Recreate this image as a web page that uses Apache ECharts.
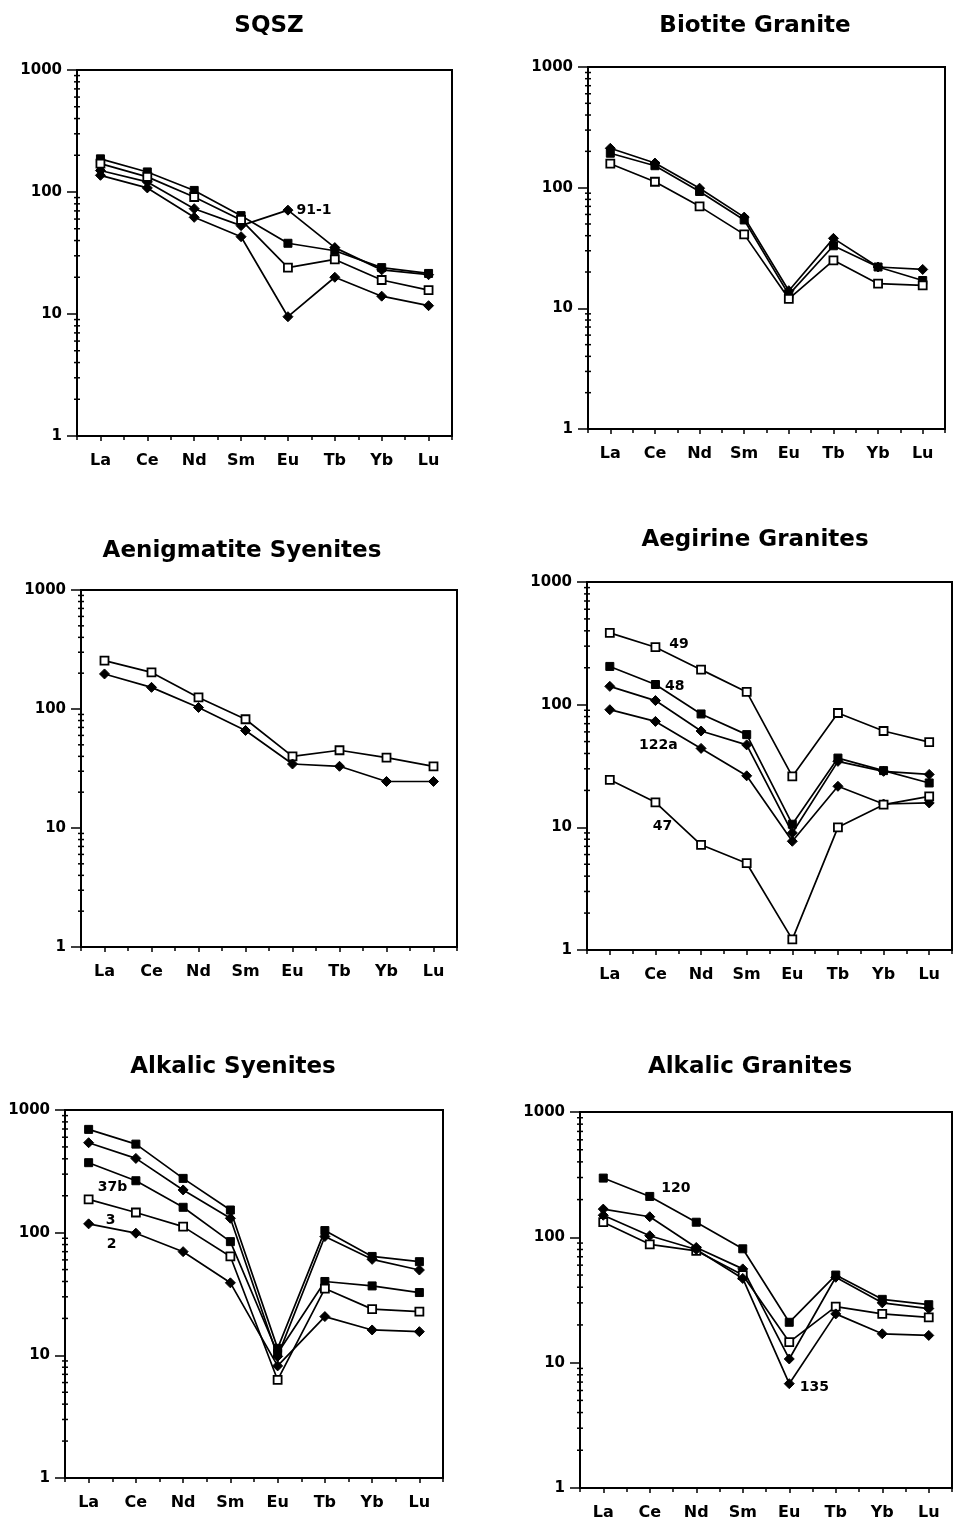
<!DOCTYPE html>
<html>
<head>
<meta charset="utf-8">
<script src="https://cdn.jsdelivr.net/npm/echarts@6/dist/echarts.min.js"></script>
<style>
html,body{margin:0;padding:0;background:#fff;}
#chart{width:953px;height:1527px;}
</style>
</head>
<body>
<div id="chart"></div>
<script>
// ---- categories & tick values ----
const categories = ['La','Ce','Nd','Sm','Eu','Tb','Yb','Lu'];
const minorTickValues = [2,3,4,5,6,7,8,9,20,30,40,50,60,70,80,90,200,300,400,500,600,700,800,900];

// ---- SQSZ ----
const sqsz_a = [187,146,103,64,38,33,24,21.5];
const sqsz_911 = [150,121,73,53,71,35,23,21];
const sqsz_c = [171,133,91,59,24,28,19,15.7];
const sqsz_d = [137,108,62,43,9.5,20,14,11.7];

// ---- Biotite Granite ----
const bio_a = [212,160,99,57,14,38,22,21];
const bio_b = [193,152,93,54,13,33,22,17];
const bio_c = [158,112,70,41,12,25,16,15.5];

// ---- Aenigmatite Syenites ----
const aen_a = [255,203,125,82,40,45,39,33];
const aen_b = [197,152,103,66,34.5,33,24.6,24.6];

// ---- Aegirine Granites ----
const aeg_49 = [385,294,193,127,26,85.5,61,49.5];
const aeg_48 = [205,146,84,57,10.6,36.7,29,23];
const aeg_c = [141,108,61,47,9,34.5,28.6,27];
const aeg_122a = [91,73,44,26.3,7.7,21.6,15.5,15.8];
const aeg_47 = [24.4,16,7.2,5.1,1.22,10,15.3,17.9];

// ---- Alkalic Syenites ----
const asy_a = [695,527,277,153,11.4,104,64,58];
const asy_b = [541,403,223,131,9.8,93,60.6,49.6];
const asy_37b = [372,265,161,84.5,10.4,40,36.8,32.5];
const asy_3 = [187,146,112,64,6.3,35,23.8,22.7];
const asy_2 = [118,99,70,39,8.2,20.7,16.1,15.6];

// ---- Alkalic Granites ----
const agr_120 = [297,212,132,81,21,50,32,29];
const agr_b = [168,146,83,56,10.7,48,30,27];
const agr_c = [132,88,78,50,14.6,28,24.5,23];
const agr_135 = [150,103,80,47,6.8,24.5,17,16.5];

const FONT = '"DejaVu Sans", "Liberation Sans", Arial, sans-serif';

const panels = [
  {title:'SQSZ', tx:264, ty:24, grid:{left:77, top:70, width:375, height:366},
   series:[
     {d:sqsz_a, m:'fs'},
     {d:sqsz_911, m:'fd', lab:{i:4, t:'91-1', pos:'right', off:[-2,0]}},
     {d:sqsz_c, m:'os'},
     {d:sqsz_d, m:'fd'}
   ]},
  {title:'Biotite Granite', tx:750, ty:24, grid:{left:588, top:67, width:357, height:362},
   series:[
     {d:bio_a, m:'fd'},
     {d:bio_b, m:'fs'},
     {d:bio_c, m:'os'}
   ]},
  {title:'Aenigmatite Syenites', tx:237, ty:549, grid:{left:81, top:590, width:376, height:357},
   series:[
     {d:aen_a, m:'os'},
     {d:aen_b, m:'fd'}
   ]},
  {title:'Aegirine Granites', tx:750, ty:538, grid:{left:587, top:582, width:365, height:368},
   series:[
     {d:aeg_49, m:'os', lab:{i:1, t:'49', pos:'right', off:[4,-3]}},
     {d:aeg_48, m:'fs', lab:{i:1, t:'48', pos:'right', off:[0,2]}},
     {d:aeg_c, m:'fd'},
     {d:aeg_122a, m:'fd', lab:{i:1, t:'122a', pos:'bottom', off:[3,6]}},
     {d:aeg_47, m:'os', lab:{i:1, t:'47', pos:'bottom', off:[7,7]}}
   ]},
  {title:'Alkalic Syenites', tx:228, ty:1065, grid:{left:65, top:1110, width:378, height:368},
   series:[
     {d:asy_a, m:'fs'},
     {d:asy_b, m:'fd'},
     {d:asy_37b, m:'fs', lab:{i:0, t:'37b', pos:'bottom', off:[24,8]}},
     {d:asy_3, m:'os', lab:{i:0, t:'3', pos:'bottom', off:[22,4]}},
     {d:asy_2, m:'fd', lab:{i:0, t:'2', pos:'bottom', off:[23,3]}}
   ]},
  {title:'Alkalic Granites', tx:745, ty:1065, grid:{left:580, top:1112, width:372, height:376},
   series:[
     {d:agr_120, m:'fs', lab:{i:1, t:'120', pos:'right', off:[2,-8]}},
     {d:agr_b, m:'fd'},
     {d:agr_c, m:'os'},
     {d:agr_135, m:'fd', lab:{i:4, t:'135', pos:'right', off:[0,4]}}
   ]}
];

const markerStyles = {
  fs:{symbol:'rect', symbolSize:8, itemStyle:{color:'#000', borderColor:'#000', borderWidth:1}},
  os:{symbol:'rect', symbolSize:8, itemStyle:{color:'#fff', borderColor:'#000', borderWidth:1.8}},
  fd:{symbol:'diamond', symbolSize:10, itemStyle:{color:'#000', borderColor:'#000', borderWidth:1}}
};

const option = {
  animation:false,
  backgroundColor:'#fff',
  title:[], grid:[], xAxis:[], yAxis:[], series:[]
};

panels.forEach((p, gi) => {
  option.title.push({
    text:p.title, left:p.tx, top:p.ty-14, textAlign:'center',
    textStyle:{fontFamily:FONT, fontSize:23, fontWeight:'bold', color:'#000'}
  });
  option.grid.push(Object.assign({show:true, borderColor:'#000', borderWidth:2, backgroundColor:'transparent', containLabel:false}, p.grid));
  // primary category axis (ticks at category centres, labels)
  option.xAxis.push({
    type:'category', gridIndex:gi, data:categories, boundaryGap:true, position:'bottom',
    axisLine:{show:true, lineStyle:{color:'#000', width:2}},
    axisTick:{show:true, alignWithLabel:true, interval:0, length:5, lineStyle:{color:'#000', width:1.5}},
    axisLabel:{interval:0, color:'#000', fontFamily:FONT, fontSize:16, fontWeight:'bold', margin:17},
    splitLine:{show:false}
  });
  // secondary category axis (ticks between categories)
  option.xAxis.push({
    type:'category', gridIndex:gi, data:categories, boundaryGap:true, position:'bottom',
    axisLine:{show:false},
    axisTick:{show:true, interval:0, length:4, lineStyle:{color:'#000', width:1.5}},
    axisLabel:{show:false, interval:0},
    splitLine:{show:false}
  });
  option.yAxis.push({
    type:'log', logBase:10, gridIndex:gi, min:1, max:1000,
    axisLine:{show:true, lineStyle:{color:'#000', width:2}},
    axisTick:{show:true, length:10, lineStyle:{color:'#000', width:1.5}},
    axisLabel:{color:'#000', fontFamily:FONT, fontSize:15, fontWeight:'bold', margin:15,
      formatter:v => String(Math.round(v))},
    splitLine:{show:false}, minorTick:{show:false}
  });
  // minor log ticks drawn through the y scale
  option.series.push({
    type:'custom', xAxisIndex:gi*2, yAxisIndex:gi, silent:true, clip:false, z:1,
    data:minorTickValues.map(v => [0, v]),
    renderItem:(params, api) => {
      const y = api.coord([0, api.value(1)])[1];
      const x0 = params.coordSys.x;
      return {type:'line', shape:{x1:x0-3, y1:y, x2:x0+3, y2:y}, style:{stroke:'#000', lineWidth:1.5}};
    }
  });
  p.series.forEach(s => {
    const ms = markerStyles[s.m];
    const data = s.d.map((v, idx) => {
      if (s.lab && s.lab.i === idx) {
        return {value:v, label:{show:true, formatter:s.lab.t, position:s.lab.pos, offset:s.lab.off,
          color:'#000', fontFamily:FONT, fontSize:14, fontWeight:'bold'}};
      }
      return v;
    });
    option.series.push({
      type:'line', xAxisIndex:gi*2, yAxisIndex:gi, data:data,
      symbol:ms.symbol, symbolSize:ms.symbolSize, showSymbol:true, showAllSymbol:true,
      itemStyle:ms.itemStyle,
      lineStyle:{color:'#000', width:1.7},
      label:{show:false}, z:3
    });
  });
});

const chart = echarts.init(document.getElementById('chart'), null, {renderer:'canvas'});
chart.setOption(option);
</script>
</body>
</html>
